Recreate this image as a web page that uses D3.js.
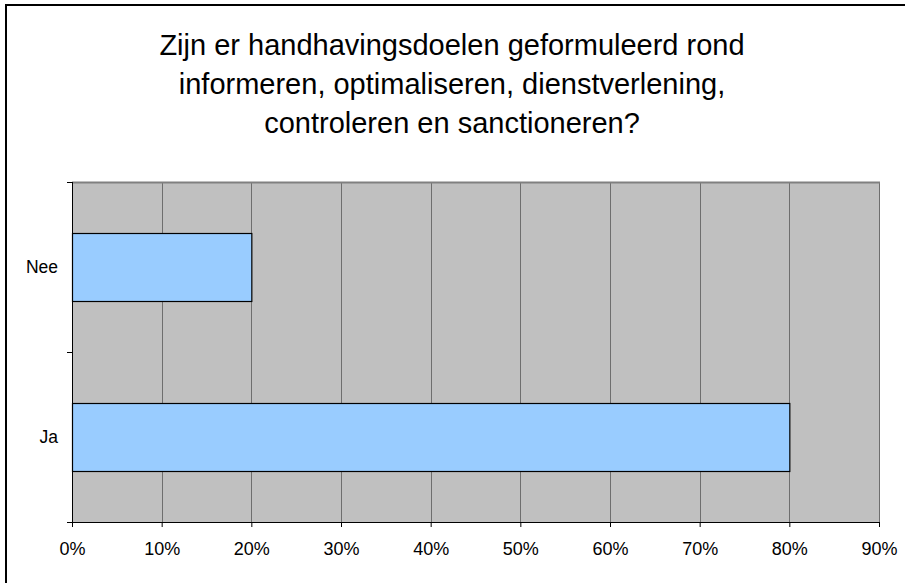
<!DOCTYPE html>
<html>
<head>
<meta charset="utf-8">
<script src="https://cdn.jsdelivr.net/npm/d3@7"></script>
<style>
	body { margin: 0; background: #fff; }
	text { font-family: "Liberation Sans", Arial, sans-serif; fill: #000; }
</style>
</head>
<body>
<div id="chart"></div>
<script>
//Data
let categories = ["Nee", "Ja"];
let values = [0.2, 0.8];
let tickValues = [0, 0.1, 0.2, 0.3, 0.4, 0.5, 0.6, 0.7, 0.8, 0.9];
let titleLines = [
	"Zijn er handhavingsdoelen geformuleerd rond",
	"informeren, optimaliseren, dienstverlening,",
	"controleren en sanctioneren?"
];

//Dimensions
let width = 905;
let height = 583;
let plot = {left: 72, right: 879, top: 182, bottom: 522};

let svg = d3.select("#chart").append("svg")
	.attr("width", width)
	.attr("height", height);

//Outer frame
svg.append("rect")
	.attr("x", 6)
	.attr("y", 5)
	.attr("width", width + 20)
	.attr("height", height + 20)
	.attr("fill", "none")
	.attr("stroke", "#000")
	.attr("stroke-width", 2);

//Title
svg.append("text")
	.attr("text-anchor", "middle")
	.style("font-size", "29px")
	.selectAll("tspan")
	.data(titleLines)
	.enter()
		.append("tspan")
			.attr("x", 452)
			.attr("y", function(d, i){ return 55 + i * 39; })
			.text(function(d){ return d; });

//Scales
let x = d3.scaleLinear()
	.domain([0, 0.9])
	.range([plot.left, plot.right]);

let y = d3.scaleBand()
	.domain(categories)
	.range([plot.top, plot.bottom])
	.paddingInner(0.6)
	.paddingOuter(0.3);

//Plot background
svg.append("rect")
	.attr("x", plot.left)
	.attr("y", plot.top)
	.attr("width", plot.right - plot.left)
	.attr("height", plot.bottom - plot.top)
	.attr("fill", "#c0c0c0");

//Gridlines
svg.selectAll(".grid")
		.data(tickValues.slice(1))
	.enter()
		.append("line")
			.attr("class", "grid")
			.attr("x1", function(d){ return Math.round(x(d)) + 0.5; })
			.attr("x2", function(d){ return Math.round(x(d)) + 0.5; })
			.attr("y1", plot.top)
			.attr("y2", plot.bottom)
			.attr("stroke", "#6e6e6e")
			.attr("stroke-width", 1);

//Plot top border
svg.append("line")
	.attr("x1", plot.left)
	.attr("x2", plot.right + 1)
	.attr("y1", plot.top + 0.5)
	.attr("y2", plot.top + 0.5)
	.attr("stroke", "#808080")
	.attr("stroke-width", 2);

//Bars
svg.selectAll(".bar")
		.data(values)
	.enter()
		.append("rect")
			.attr("class", "bar")
			.attr("x", x(0) + 0.5)
			.attr("y", function(d, i){ return Math.round(y(categories[i])) + 0.5; })
			.attr("width", function(d){ return x(d) - x(0); })
			.attr("height", y.bandwidth())
			.attr("fill", "#99ccff")
			.attr("stroke", "#000")
			.attr("stroke-width", 1.2);

//X axis
let xAxis = svg.append("g")
	.attr("transform", "translate(0," + plot.bottom + ")")
	.call(d3.axisBottom(x)
		.tickValues(tickValues)
		.tickFormat(d3.format(".0%"))
		.tickSize(5)
		.tickPadding(15));

xAxis.select(".domain").attr("stroke", "#000");
xAxis.selectAll(".tick line").attr("stroke", "#000");
xAxis.selectAll("text")
	.style("font-size", "18px")
	.style("font-family", "Liberation Sans, Arial, sans-serif");

//Y axis: ticks between categories
let yBounds = [plot.top, (plot.top + plot.bottom) / 2, plot.bottom];
svg.append("line")
	.attr("x1", plot.left + 0.5)
	.attr("x2", plot.left + 0.5)
	.attr("y1", plot.top)
	.attr("y2", plot.bottom)
	.attr("stroke", "#000");

svg.selectAll(".ytick")
		.data(yBounds)
	.enter()
		.append("line")
			.attr("class", "ytick")
			.attr("x1", plot.left - 5)
			.attr("x2", plot.left)
			.attr("y1", function(d){ return d + 0.5; })
			.attr("y2", function(d){ return d + 0.5; })
			.attr("stroke", "#000");

svg.selectAll(".ylabel")
		.data(categories)
	.enter()
		.append("text")
			.attr("class", "ylabel")
			.attr("x", 58)
			.attr("y", function(d){ return y(d) + y.bandwidth() / 2; })
			.attr("dy", "0.35em")
			.attr("text-anchor", "end")
			.style("font-size", "17.5px")
			.text(function(d){ return d; });
</script>
</body>
</html>
